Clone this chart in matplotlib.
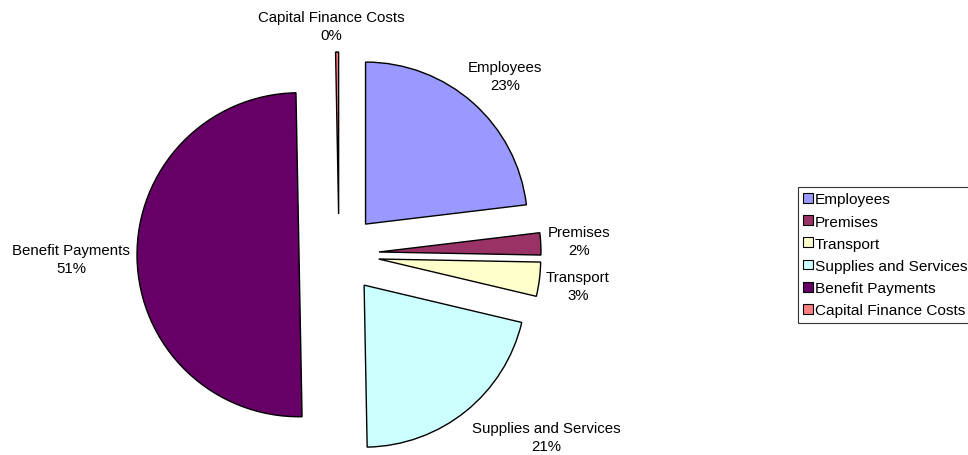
import matplotlib
matplotlib.use("Agg")
import matplotlib.pyplot as plt
from matplotlib.patches import Patch

categories = ["Employees", "Premises", "Transport", "Supplies and Services",
              "Benefit Payments", "Capital Finance Costs"]
values = [23.1, 2.2, 3.4, 21.0, 50.0, 0.3]
pct_labels = ["23%", "2%", "3%", "21%", "51%", "0%"]
colors = ["#9999FF", "#993366", "#FFFFCC", "#CCFFFF", "#660066", "#FF8080"]

# label text centres (pixels from top-left of figure)
label_pos = [(505, 77), (579, 242), (578, 287), (546, 438), (71, 260), (331, 27)]

W, H = 968, 456
CX, CY = 339, 255  # pie centre in pixels from top-left
R = 162
EXPLODE = 40

plt.rcParams['font.family'] = ['Liberation Sans', 'DejaVu Sans']
fig = plt.figure(figsize=(W / 100, H / 100), dpi=100)
ax = fig.add_axes([0, 0, 1, 1])

wedges, _ = ax.pie(values, colors=colors, radius=R, explode=[EXPLODE] * len(values),
                   startangle=90, counterclock=False,
                   wedgeprops=dict(edgecolor='black', linewidth=1.0))

ax.set_xlim(-CX, W - CX)
ax.set_ylim(-(H - CY), CY)
ax.set_aspect('equal')
ax.axis('off')

for name, pct, (px, py) in zip(categories, pct_labels, label_pos):
    ax.text(px - CX, CY - py, f"{name}\n{pct}", ha='center', va='center',
            fontsize=10.8, linespacing=1.35, color='black')

handles = [Patch(facecolor=c, edgecolor='black', linewidth=0.8) for c in colors]
leg = fig.legend(handles, categories, loc='upper left',
                 bbox_to_anchor=(798 / W, 1 - 188 / H),
                 fontsize=11.1, frameon=True, fancybox=False, shadow=False,
                 handlelength=0.6, handleheight=0.6, handletextpad=0.15,
                 labelspacing=0.53, borderpad=0.35, borderaxespad=0.0)
leg.get_frame().set_edgecolor('black')
leg.get_frame().set_linewidth(0.8)

fig.savefig("out.png", dpi=100)
